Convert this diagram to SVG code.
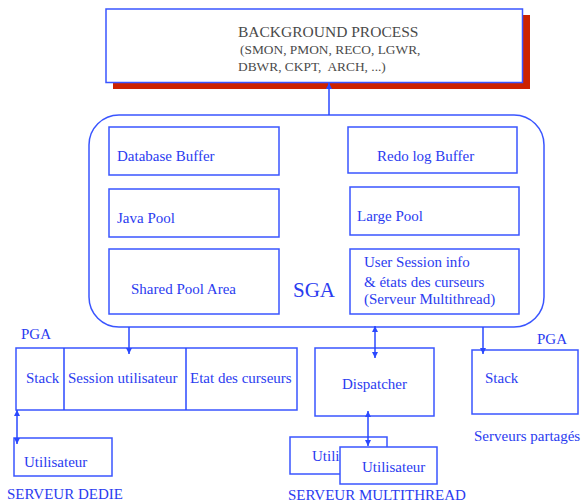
<svg xmlns="http://www.w3.org/2000/svg" width="584" height="504" viewBox="0 0 584 504">
  <style>
    .box { fill: #ffffff; stroke: #3a55ff; stroke-width: 1.5; }
    .lbl { font-family: "Liberation Serif", "Times New Roman", serif; font-size: 15px; fill: #2b3cf0; }
    .big { font-size: 21px; }
    .bg  { font-family: "Liberation Serif", "Times New Roman", serif; fill: #4a4a4a; font-size: 13.4px; }
    .bgt { font-size: 15.5px; }
    .link { stroke: #2a48ff; stroke-width: 1.5; fill: none; }
  </style>
  <defs>
    <marker id="arrow" viewBox="0 0 10 10" refX="10" refY="5" markerWidth="6" markerHeight="6" orient="auto-start-reverse" markerUnits="userSpaceOnUse">
      <path d="M0,0 L10,5 L0,10 Z" fill="#2a48ff"/>
    </marker>
  </defs>
  <rect width="584" height="504" fill="#ffffff"/>

  <!-- background processes -->
  <g id="background">
    <rect x="113" y="15" width="417" height="74" fill="#cc2200"/>
    <rect class="box" x="106" y="9" width="416.5" height="73.5"/>
    <text class="bg bgt" x="238" y="37">BACKGROUND PROCESS</text>
    <text class="bg" x="240" y="54">(SMON, PMON, RECO, LGWR,</text>
    <text class="bg" x="238" y="71" xml:space="preserve">DBWR, CKPT,  ARCH, ...)</text>
  </g>

  <!-- system global area -->
  <g id="sga">
    <rect class="box" x="89" y="115" width="455" height="212" rx="30" ry="30"/>
    <text class="lbl big" x="293" y="297">SGA</text>
  </g>
  <g id="database-buffer">
    <rect class="box" x="109" y="127" width="170" height="48"/>
    <text class="lbl" x="117" y="161">Database Buffer</text>
  </g>
  <g id="redo-log-buffer">
    <rect class="box" x="348" y="127" width="169" height="46"/>
    <text class="lbl" x="377" y="161">Redo log Buffer</text>
  </g>
  <g id="java-pool">
    <rect class="box" x="109" y="189" width="170" height="48"/>
    <text class="lbl" x="117" y="223">Java Pool</text>
  </g>
  <g id="large-pool">
    <rect class="box" x="350" y="187" width="169" height="48"/>
    <text class="lbl" x="357" y="221">Large Pool</text>
  </g>
  <g id="shared-pool">
    <rect class="box" x="109" y="249" width="170" height="65"/>
    <text class="lbl" x="131" y="294">Shared Pool Area</text>
  </g>
  <g id="user-session">
    <rect class="box" x="350" y="249" width="169" height="65"/>
    <text class="lbl" x="364" y="267">User Session info</text>
    <text class="lbl" x="364" y="287">&amp; états des curseurs</text>
    <text class="lbl" x="364" y="304">(Serveur Multithread)</text>
  </g>

  <!-- dedicated server -->
  <g id="pga-dedie">
    <text class="lbl" x="21" y="339">PGA</text>
    <rect class="box" x="16" y="348" width="281" height="62"/>
    <line class="link" x1="64" y1="348" x2="64" y2="410"/>
    <line class="link" x1="186" y1="348" x2="186" y2="410"/>
    <text class="lbl" x="26" y="383">Stack</text>
    <text class="lbl" x="68" y="383">Session utilisateur</text>
    <text class="lbl" x="190" y="383">Etat des curseurs</text>
  </g>
  <g id="utilisateur-dedie">
    <rect class="box" x="14" y="438" width="98" height="38"/>
    <text class="lbl" x="24" y="467">Utilisateur</text>
  </g>
  <text class="lbl" x="7" y="499">SERVEUR DEDIE</text>

  <!-- multithreaded server -->
  <g id="dispatcher">
    <rect class="box" x="315" y="348" width="119" height="68"/>
    <text class="lbl" x="342" y="389">Dispatcher</text>
  </g>
  <g id="utilisateur-mt-1">
    <rect class="box" x="290" y="437" width="97" height="37"/>
    <text class="lbl" x="312" y="461">Utilisateur</text>
  </g>
  <g id="utilisateur-mt-2">
    <rect class="box" x="340" y="447" width="97" height="37"/>
    <text class="lbl" x="362" y="472">Utilisateur</text>
  </g>
  <text class="lbl" x="288" y="500">SERVEUR MULTITHREAD</text>

  <!-- shared servers -->
  <g id="pga-partage">
    <text class="lbl" x="537" y="344">PGA</text>
    <rect class="box" x="472" y="350" width="106" height="64"/>
    <text class="lbl" x="485" y="383">Stack</text>
  </g>
  <text class="lbl" x="474" y="441">Serveurs partagés</text>

  <!-- connectors -->
  <g id="connectors">
    <line class="link" x1="329" y1="115" x2="329" y2="83" marker-end="url(#arrow)"/>
    <line class="link" x1="129" y1="327" x2="129" y2="354" marker-end="url(#arrow)"/>
    <line class="link" x1="17" y1="410" x2="17" y2="444" marker-start="url(#arrow)" marker-end="url(#arrow)"/>
    <line class="link" x1="375" y1="326" x2="375" y2="358" marker-start="url(#arrow)" marker-end="url(#arrow)"/>
    <line class="link" x1="368" y1="411" x2="368" y2="446" marker-start="url(#arrow)" marker-end="url(#arrow)"/>
    <line class="link" x1="483" y1="327" x2="483" y2="354" marker-end="url(#arrow)"/>
  </g>
</svg>
